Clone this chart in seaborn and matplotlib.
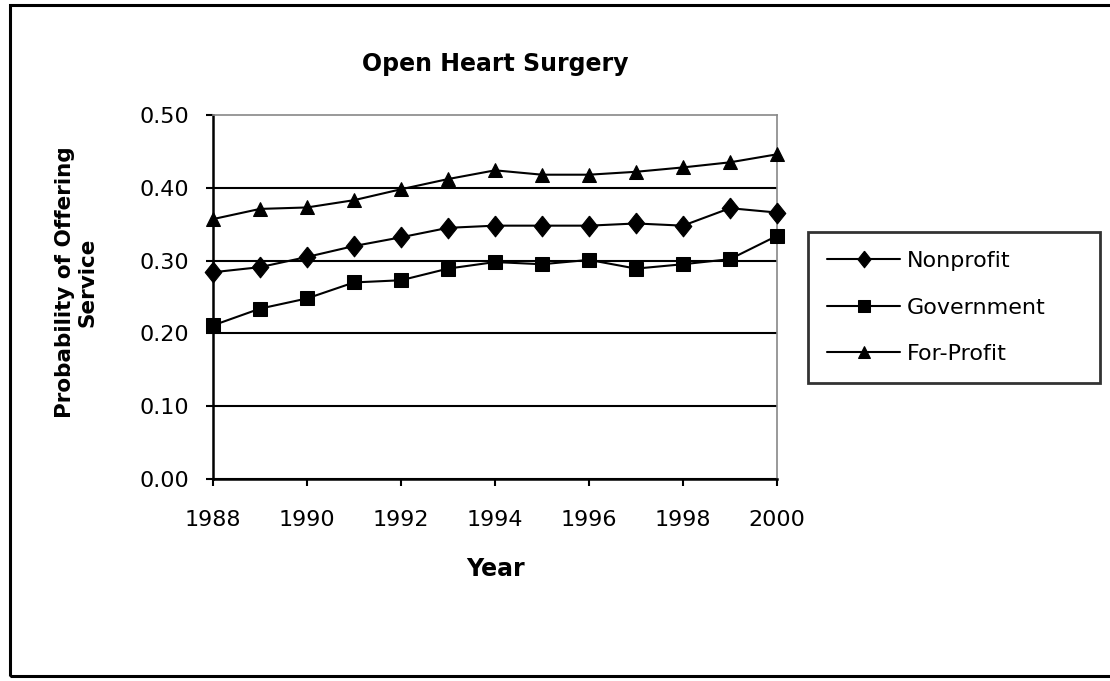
import matplotlib
matplotlib.use("Agg")
import matplotlib.pyplot as plt
import seaborn as sns
import pandas as pd
from matplotlib.patches import Rectangle

years = list(range(1988, 2001))
nonprofit = [0.284, 0.291, 0.305, 0.320, 0.332, 0.345, 0.348, 0.348, 0.348, 0.351, 0.348, 0.372, 0.366]
government = [0.211, 0.234, 0.248, 0.270, 0.273, 0.289, 0.298, 0.295, 0.301, 0.289, 0.295, 0.302, 0.334]
forprofit = [0.357, 0.371, 0.373, 0.383, 0.398, 0.412, 0.424, 0.418, 0.418, 0.422, 0.428, 0.435, 0.446]
series_names = ["Nonprofit", "Government", "For-Profit"]
yticks = [0.0, 0.1, 0.2, 0.3, 0.4, 0.5]
xticks = list(range(1988, 2001, 2))

df = pd.DataFrame({
    "Year": years * 3,
    "Value": nonprofit + government + forprofit,
    "Type": [series_names[0]] * 13 + [series_names[1]] * 13 + [series_names[2]] * 13,
})

sns.set_theme(style="white")
plt.rcParams["font.family"] = ["DejaVu Sans"]
plt.rcParams["text.color"] = "black"
plt.rcParams["axes.labelcolor"] = "black"
plt.rcParams["xtick.color"] = "black"
plt.rcParams["ytick.color"] = "black"

fig = plt.figure(figsize=(11.10, 6.81), dpi=100)
ax = fig.add_axes([213 / 1110, 1 - 479 / 681, (777 - 213) / 1110, (479 - 115) / 681])

# outer chart border
fig.patches.append(Rectangle((10 / 1110, 1 - 676 / 681), 1.2, (676 - 5) / 681,
                             transform=fig.transFigure, fill=False,
                             edgecolor="black", linewidth=2.2, zorder=0))

for y in yticks[:-1]:
    ax.axhline(y, color="black", linewidth=1.5, zorder=1)

diamond = [(0, 1), (0.8, 0), (0, -1), (-0.8, 0), (0, 1)]
sns.lineplot(data=df, x="Year", y="Value", hue="Type", style="Type",
             palette=["black"] * 3, markers={"Nonprofit": diamond, "Government": "s", "For-Profit": "^"},
             dashes=False, markersize=10, linewidth=1.5, ax=ax, zorder=3,
             markeredgecolor="black", clip_on=False)

# enlarge the diamond markers (Nonprofit series)
for ln in ax.lines:
    if ln.get_label() == "Nonprofit" or (len(ln.get_ydata()) == 13 and abs(ln.get_ydata()[0] - nonprofit[0]) < 1e-9):
        ln.set_markersize(15)

ax.set_xlim(1988, 2000)
ax.set_ylim(0, 0.5)
ax.set_xticks(xticks)
ax.set_yticks(yticks)
ax.set_yticklabels([f"{v:.2f}" for v in yticks])
ax.tick_params(axis="both", direction="out", length=5, width=1.5, color="black",
               labelsize=16, left=True, bottom=True, labelcolor="black")
ax.tick_params(axis="y", pad=12)
ax.tick_params(axis="x", pad=17)

for s in ["top", "right"]:
    ax.spines[s].set_color("#888888")
    ax.spines[s].set_linewidth(1.2)
for s in ["left", "bottom"]:
    ax.spines[s].set_color("black")
    ax.spines[s].set_linewidth(1.8)

ax.set_title("Open Heart Surgery", fontsize=17, fontweight="heavy", pad=32, color="black")
ax.set_xlabel("Year", fontsize=17, fontweight="heavy", labelpad=20, color="black")
ax.set_ylabel("Probability of Offering\nService", fontsize=15.5, fontweight="heavy",
              linespacing=1.2, color="black")
ax.yaxis.set_label_coords((98 - 213) / 564, (479 - 282) / 364)

handles, labels = ax.get_legend_handles_labels()
leg = ax.legend(handles, labels, loc="upper left",
                bbox_to_anchor=(808 / 1110, 1 - 232 / 681, (1100 - 808) / 1110, 0.0),
                mode="expand",
                bbox_transform=fig.transFigure, fontsize=16, frameon=True, fancybox=False,
                edgecolor="black", handlelength=3.3, handletextpad=0.3, labelspacing=1.2,
                borderpad=0.85, borderaxespad=0, labelcolor="black")
leg.get_frame().set_linewidth(2)
for h, lab in zip(leg.legend_handles, labels):
    h.set_markersize(12 if lab == "Nonprofit" else 8)

fig.savefig("out.png", dpi=100)
